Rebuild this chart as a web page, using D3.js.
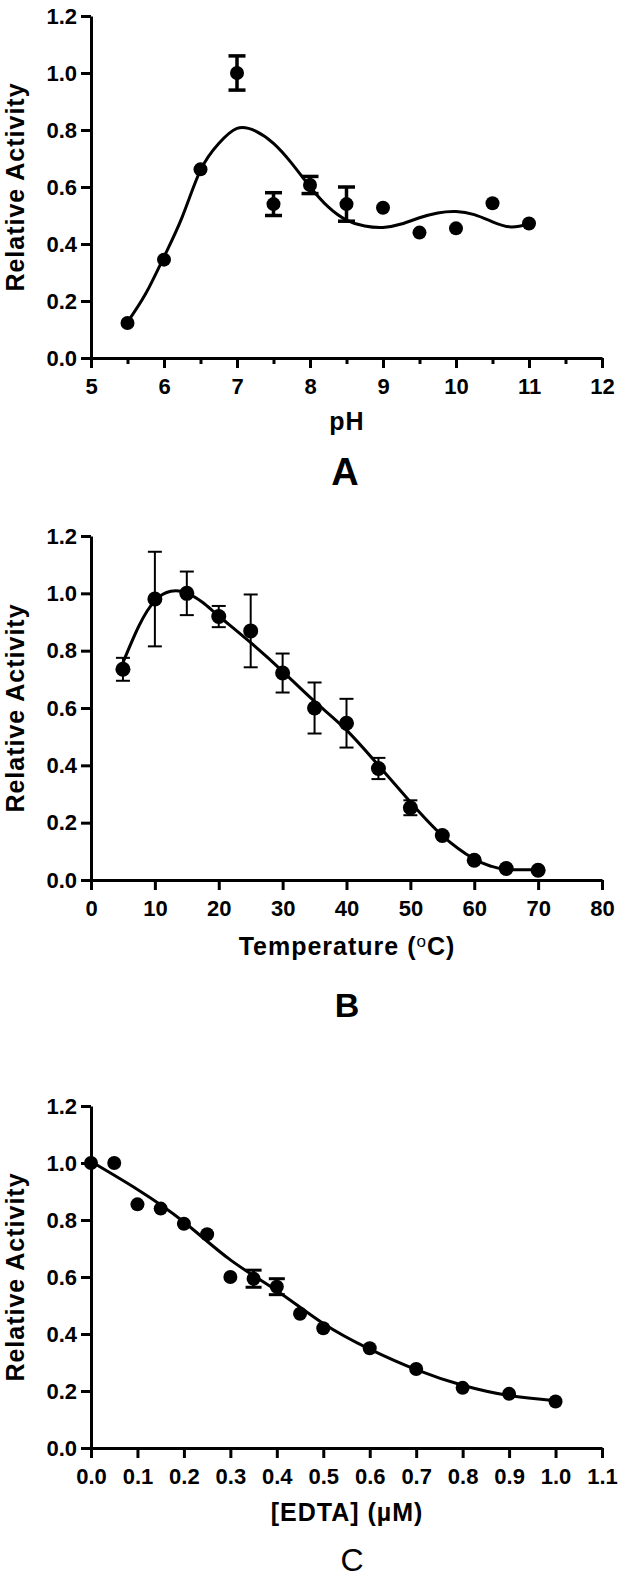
<!DOCTYPE html>
<html>
<head>
<meta charset="utf-8">
<script src="https://cdn.jsdelivr.net/npm/d3@7"></script>
<style>
  body { margin: 0; background: #fff; }
  svg { display: block; font-family: "Liberation Sans", Arial, sans-serif; }
  .axis text { font-size: 22px; font-weight: bold; fill: #000; font-family: "Liberation Sans", Arial, sans-serif; }
</style>
</head>
<body>
<div id="chart"></div>
<script>
// ---- data ----
var yTicks = [0, 0.2, 0.4, 0.6, 0.8, 1.0, 1.2];

// A: pH
var phTicks = [5, 6, 7, 8, 9, 10, 11, 12];
var phMinor = [5.5, 6.5, 7.5, 8.5, 9.5, 10.5, 11.5];
var phX   = [5.5, 6, 6.5, 7, 7.5, 8, 8.5, 9, 9.5, 10, 10.5, 11];
var phY   = [0.123, 0.345, 0.662, 1.0, 0.54, 0.607, 0.54, 0.527, 0.44, 0.455, 0.543, 0.472];
var phErr = [0, 0, 0, 0.06, 0.04, 0.03, 0.06, 0, 0, 0, 0, 0];
var phFitX = [5.5, 5.75, 6, 6.25, 6.5, 6.75, 7, 7.25, 7.5, 7.75, 8, 8.25, 8.5, 8.75, 9, 9.25, 9.5, 9.75, 10, 10.25, 10.5, 10.75, 11];
var phFitY = [0.126, 0.226, 0.355, 0.495, 0.659, 0.753, 0.806, 0.797, 0.753, 0.683, 0.601, 0.53, 0.484, 0.463, 0.458, 0.47, 0.492, 0.509, 0.514, 0.503, 0.478, 0.46, 0.47];

// B: temperature
var tempTicks = [0, 10, 20, 30, 40, 50, 60, 70, 80];
var tempX   = [5, 10, 15, 20, 25, 30, 35, 40, 45, 50, 55, 60, 65, 70];
var tempY   = [0.735, 0.98, 1.0, 0.919, 0.869, 0.722, 0.6, 0.547, 0.389, 0.252, 0.155, 0.069, 0.04, 0.034];
var tempErr = [0.04, 0.165, 0.076, 0.037, 0.127, 0.068, 0.089, 0.085, 0.037, 0.026, 0, 0, 0, 0];
var tempFitX = [5, 7.5, 10, 12.5, 15, 17.5, 20, 25, 30, 35, 40, 45, 50, 55, 60, 62.5, 65, 70];
var tempFitY = [0.758, 0.886, 0.974, 1.007, 1.001, 0.968, 0.921, 0.828, 0.728, 0.623, 0.523, 0.4, 0.272, 0.155, 0.073, 0.049, 0.037, 0.037];

// C: EDTA
var edtaTicks = [0, 0.1, 0.2, 0.3, 0.4, 0.5, 0.6, 0.7, 0.8, 0.9, 1.0, 1.1];
var edtaX   = [0, 0.05, 0.1, 0.15, 0.2, 0.25, 0.3, 0.35, 0.4, 0.45, 0.5, 0.6, 0.7, 0.8, 0.9, 1.0];
var edtaY   = [1.0, 1.0, 0.855, 0.84, 0.787, 0.75, 0.6, 0.594, 0.566, 0.471, 0.42, 0.35, 0.277, 0.211, 0.19, 0.163];
var edtaErr = [0, 0, 0, 0, 0, 0, 0, 0.03, 0.028, 0, 0, 0, 0, 0, 0, 0];
var edtaFitX = [0, 0.1, 0.2, 0.3, 0.4, 0.5, 0.6, 0.7, 0.8, 0.9, 1.0];
var edtaFitY = [1.005, 0.907, 0.793, 0.66, 0.552, 0.437, 0.347, 0.275, 0.22, 0.184, 0.166];

var W = 621, H = 1579;
var svg = d3.select("#chart").append("svg")
  .attr("width", W)
  .attr("height", H);
svg.append("rect").attr("width", W).attr("height", H).attr("fill", "#fff");

var fmt1 = d3.format(".1f");

function panel(o) {
  var x = d3.scaleLinear().domain(o.xDomain).range([91, 602]);
  var y = d3.scaleLinear().domain([0, 1.2]).range([o.bottom, o.top]);
  var g = svg.append("g");

  // fitted curve
  var line = d3.line()
    .x(function(d) { return x(d[0]); })
    .y(function(d) { return y(d[1]); })
    .curve(d3.curveNatural);
  g.append("path")
    .datum(d3.zip(o.fitX, o.fitY))
    .attr("fill", "none")
    .attr("stroke", "#000")
    .attr("stroke-width", 3)
    .attr("d", line);

  // error bars
  var pts = o.xs.map(function(v, i) { return {x: v, y: o.ys[i], e: o.errs[i]}; });
  var eb = g.selectAll(".eb").data(pts.filter(function(d) { return d.e > 0; }))
    .enter().append("g")
    .attr("stroke", "#000")
    .attr("stroke-width", o.errW);
  eb.append("line")
    .attr("x1", function(d) { return x(d.x); })
    .attr("x2", function(d) { return x(d.x); })
    .attr("y1", function(d) { return y(d.y - d.e); })
    .attr("y2", function(d) { return y(d.y + d.e); });
  [-1, 1].forEach(function(s) {
    eb.append("line")
      .attr("x1", function(d) { return x(d.x) - o.cap / 2; })
      .attr("x2", function(d) { return x(d.x) + o.cap / 2; })
      .attr("y1", function(d) { return y(d.y + s * d.e); })
      .attr("y2", function(d) { return y(d.y + s * d.e); });
  });

  // points
  g.selectAll(".pt").data(pts).enter().append("circle")
    .attr("cx", function(d) { return x(d.x); })
    .attr("cy", function(d) { return y(d.y); })
    .attr("r", o.r)
    .attr("fill", "#000");

  // axes
  var xa = g.append("g")
    .attr("class", "axis")
    .attr("transform", "translate(0," + o.bottom + ")")
    .call(d3.axisBottom(x).tickValues(o.xTicks).tickFormat(o.xFmt)
      .tickSize(10).tickSizeOuter(0).tickPadding(6));
  if (o.minor) {
    g.append("g")
      .attr("transform", "translate(0," + o.bottom + ")")
      .call(d3.axisBottom(x).tickValues(o.minor).tickFormat("").tickSize(6))
      .call(function(s) { s.select(".domain").remove(); })
      .selectAll("line").attr("stroke-width", 3);
  }
  var ya = g.append("g")
    .attr("class", "axis")
    .attr("transform", "translate(91,0)")
    .call(d3.axisLeft(y).tickValues(yTicks).tickFormat(fmt1)
      .tickSize(10).tickSizeOuter(0).tickPadding(4));
  [xa, ya].forEach(function(a) {
    a.select(".domain").attr("stroke-width", 3);
    a.selectAll(".tick line").attr("stroke-width", 3);
  });
  xa.selectAll("text").attr("y", 20);

  // titles
  g.append("text")
    .attr("transform", "translate(24," + ((o.top + o.bottom) / 2) + ") rotate(-90)")
    .attr("text-anchor", "middle")
    .style("font-size", "25px")
    .attr("font-weight", "bold")
    .attr("letter-spacing", 1)
    .text("Relative Activity");

  var xt = g.append("text")
    .attr("x", 347)
    .attr("y", o.xTitleY)
    .attr("text-anchor", "middle")
    .style("font-size", "25px")
    .attr("font-weight", "bold")
    .attr("letter-spacing", 1);
  o.xTitle(xt);

  g.append("text")
    .attr("x", o.tagX)
    .attr("y", o.tagY)
    .attr("text-anchor", "middle")
    .style("font-size", o.tagSize + "px")
    .attr("font-weight", o.tagWeight)
    .text(o.tag);
}

panel({
  xDomain: [5, 12], xTicks: phTicks, minor: phMinor, xFmt: d3.format("d"),
  top: 16, bottom: 358,
  xs: phX, ys: phY, errs: phErr, fitX: phFitX, fitY: phFitY,
  r: 7, errW: 3.5, cap: 17,
  xTitle: function(t) { t.text("pH"); }, xTitleY: 430,
  tag: "A", tagX: 345, tagY: 485, tagSize: 38, tagWeight: "bold"
});

panel({
  xDomain: [0, 80], xTicks: tempTicks, xFmt: d3.format("d"),
  top: 536, bottom: 880,
  xs: tempX, ys: tempY, errs: tempErr, fitX: tempFitX, fitY: tempFitY,
  r: 7.5, errW: 2, cap: 14,
  xTitle: function(t) {
    t.append("tspan").text("Temperature (");
    t.append("tspan").style("font-size", "17px").attr("dy", -8).attr("font-weight", "normal").text("o");
    t.append("tspan").attr("dy", 8).text("C)");
  }, xTitleY: 955,
  tag: "B", tagX: 347, tagY: 1017, tagSize: 34, tagWeight: "bold"
});

panel({
  xDomain: [0, 1.1], xTicks: edtaTicks, xFmt: fmt1,
  top: 1106, bottom: 1448,
  xs: edtaX, ys: edtaY, errs: edtaErr, fitX: edtaFitX, fitY: edtaFitY,
  r: 7, errW: 3, cap: 16,
  xTitle: function(t) { t.text("[EDTA] (\u00b5M)"); }, xTitleY: 1521,
  tag: "C", tagX: 352, tagY: 1571, tagSize: 32, tagWeight: "normal"
});
</script>
</body>
</html>
